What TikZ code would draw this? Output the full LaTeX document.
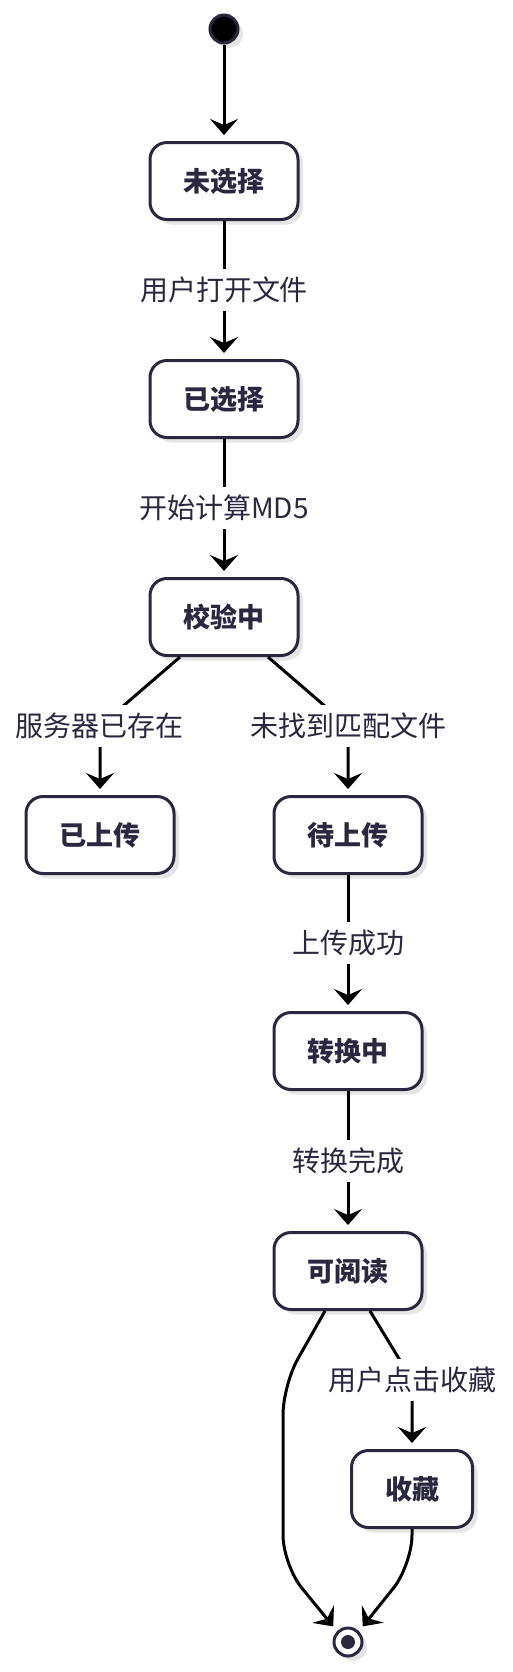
\documentclass[tikz,border=0pt]{standalone}
\usepackage{fontspec}
\setmainfont{Noto Sans CJK SC}
\usetikzlibrary{arrows.meta,shadows}
\definecolor{ink}{RGB}{42,40,62}

\begin{document}
\begin{tikzpicture}[x=0.5pt,y=-0.5pt,
        state/.style={draw=ink,line width=1.5pt,fill=white,rounded corners=8.5pt,
            minimum width=74pt,minimum height=38.5pt,text=ink,
            font=\fontsize{13.5pt}{16pt}\selectfont\bfseries,
            drop shadow={shadow xshift=2.5pt,shadow yshift=-2.5pt,fill=black,opacity=0.1}},
        edge/.style={line width=1.5pt,-{Stealth[length=8pt,width=14pt,inset=3pt]},shorten >=3pt},
        lbl/.style={fill=white,text=ink,font=\fontsize{14pt}{16pt}\selectfont,inner xsep=1pt,inner ysep=4pt}]
            \useasboundingbox (0,0) rectangle (513,1672);

            \node[circle,draw=ink,fill=black,line width=1.5pt,minimum size=14pt,inner sep=0pt,
                drop shadow={shadow xshift=2.5pt,shadow yshift=-2.5pt,fill=black,opacity=0.1}] (start) at (224,29) {};

            \node[state] (unsel) at (224,181) {未选择};
            \node[state] (sel) at (224,399) {已选择};
            \node[state] (check) at (224,617) {校验中};
            \node[state] (done) at (100,835) {已上传};
            \node[state] (wait) at (348,835) {待上传};
            \node[state] (conv) at (348,1051) {转换中};
            \node[state] (read) at (348,1271) {可阅读};
            \node[state,minimum width=60.5pt] (fav) at (412,1489) {收藏};

            \node[circle,draw=ink,fill=white,line width=1.5pt,minimum size=14pt,inner sep=0pt,
                drop shadow={shadow xshift=2.5pt,shadow yshift=-2.5pt,fill=black,opacity=0.1}] (stop) at (348,1642) {};
            \fill[ink] (stop.center) circle (3.5pt);

            \coordinate (bendL) at (100,726);
            \coordinate (bendR) at (348,726);
            \coordinate (bendF) at (412,1380);

            \draw[edge] (start) -- (unsel);
            \draw[edge] (unsel) -- node[lbl] {用户打开文件} (sel);
            \draw[edge] (sel) -- node[lbl] {开始计算MD5} (check);
            \draw[edge] ([xshift=-22pt]check.south) -- (bendL) node[lbl] {服务器已存在} -- (done);
            \draw[edge] ([xshift=22pt]check.south) -- (bendR) node[lbl] {未找到匹配文件} -- (wait);
            \draw[edge] (wait) -- node[lbl] {上传成功} (conv);
            \draw[edge] (conv) -- node[lbl] {转换完成} (read);
            \draw[edge] ([xshift=11pt]read.south) -- (bendF) node[lbl] {用户点击收藏} -- (fav);
            \draw[edge,rounded corners=15pt] ([xshift=-11.5pt]read.south) -- (283,1385) -- (283,1565) -- (stop.north west);
            \draw[edge,rounded corners=15pt] (fav.south) -- (412,1565) -- (stop.north east);
        \end{tikzpicture}
\end{document}
